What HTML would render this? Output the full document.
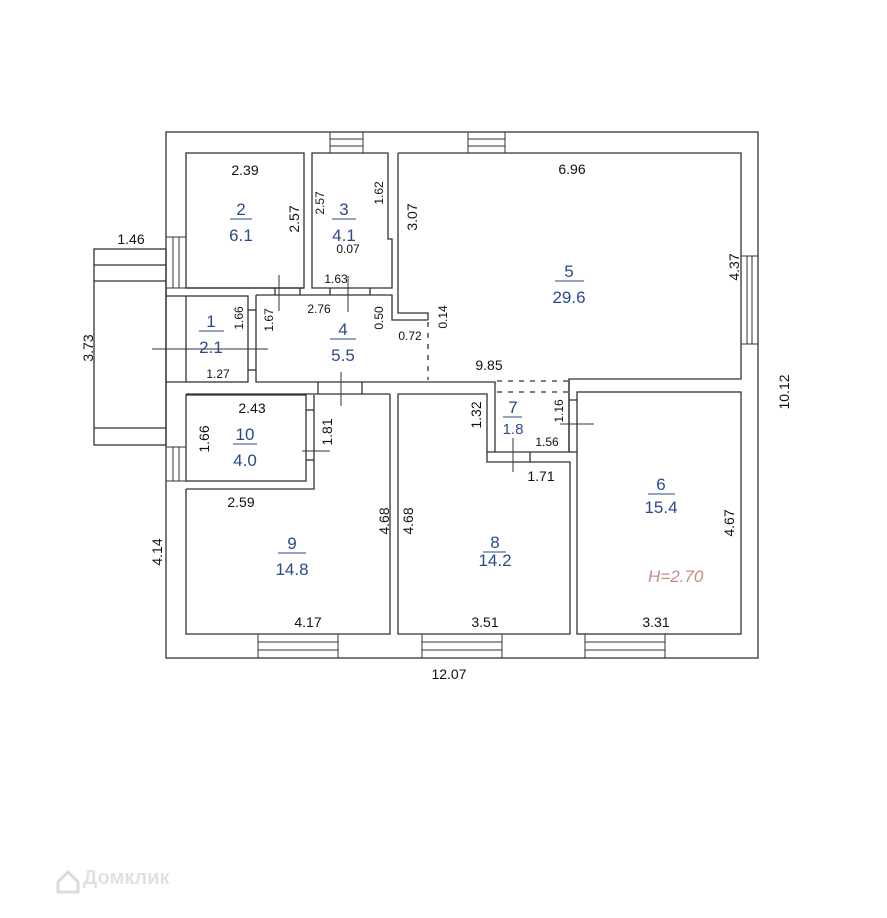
<!DOCTYPE html>
<html><head><meta charset="utf-8"><style>
html,body{margin:0;padding:0;background:#fff}
svg{display:block}
text{font-family:"Liberation Sans",sans-serif}
.d{font-size:14px;fill:#111}
.s{font-size:12px;fill:#111}
.b{font-size:17px;fill:#2b4a8c}
</style></head><body>
<svg width="887" height="918" viewBox="0 0 887 918" xmlns="http://www.w3.org/2000/svg">
<g fill="none" stroke="#333" stroke-width="1.3">
<!-- outer -->
<rect x="166" y="132" width="592" height="526"/>
<!-- porch -->
<rect x="94" y="249" width="72" height="196"/>
<line x1="94" y1="265" x2="166" y2="265"/><line x1="94" y1="281" x2="166" y2="281"/>
<line x1="94" y1="428" x2="166" y2="428"/>
<!-- room 2 -->
<rect x="186" y="153" width="118" height="135"/>
<!-- room 3 -->
<path d="M312,153 H388 V239 H392 V288 H312 Z"/>
<!-- room 5 -->
<path d="M398,153 H741 V379 H569 V452 M398,153 V313 H428 V320"/>
<path d="M569,379 V452 H495 V392"/>
<!-- room 4 -->
<path d="M256,295 H392 V320 H428 M256,295 V382 H495 V392 M428,320"/>
<!-- room 1 -->
<rect x="186" y="296" width="62" height="86"/>
<line x1="166" y1="296" x2="186" y2="296"/><line x1="166" y1="382" x2="186" y2="382"/>
<line x1="248" y1="310" x2="256" y2="310"/><line x1="248" y1="370" x2="256" y2="370"/>
<line x1="186" y1="288" x2="304" y2="288"/>
<line x1="275" y1="288" x2="275" y2="295"/><line x1="300" y1="288" x2="300" y2="295"/>
<line x1="330" y1="288" x2="330" y2="295"/><line x1="370" y1="288" x2="370" y2="295"/>
<!-- room 10 -->
<rect x="186" y="395" width="120" height="86"/>
<path d="M186,489 H314 V395"/>
<line x1="306" y1="410" x2="314" y2="410"/><line x1="306" y1="460" x2="314" y2="460"/>
<line x1="186" y1="394" x2="390" y2="394"/>
<line x1="318" y1="382" x2="318" y2="394"/><line x1="362" y1="382" x2="362" y2="394"/>
<!-- room 9 -->
<path d="M186,489 V634 H390 V394"/>
<!-- room 8 -->
<path d="M398,394 H487 V462 H570 V634 H398 Z"/>
<line x1="487" y1="452" x2="495" y2="452"/><line x1="530" y1="452" x2="530" y2="462"/>
<!-- room 6 -->
<rect x="577" y="392" width="164" height="242"/>
<line x1="569" y1="400" x2="577" y2="400"/><line x1="569" y1="452" x2="577" y2="452"/>
<!-- dashed -->
<path d="M428,322 V380 M497,381 H569 M497,392 H569" stroke-dasharray="5,6"/>
<!-- windows -->
<g stroke-width="1">
<rect x="330" y="132" width="33" height="21"/><line x1="330" y1="139" x2="363" y2="139"/><line x1="330" y1="146" x2="363" y2="146"/>
<rect x="468" y="132" width="37" height="21"/><line x1="468" y1="139" x2="505" y2="139"/><line x1="468" y1="146" x2="505" y2="146"/>
<rect x="166" y="237" width="20" height="51"/><line x1="173" y1="237" x2="173" y2="288"/><line x1="179" y1="237" x2="179" y2="288"/>
<rect x="166" y="447" width="20" height="34"/><line x1="173" y1="447" x2="173" y2="481"/><line x1="179" y1="447" x2="179" y2="481"/>
<rect x="741" y="256" width="17" height="88"/><line x1="747" y1="256" x2="747" y2="344"/><line x1="752" y1="256" x2="752" y2="344"/>
<rect x="258" y="634" width="80" height="24"/><line x1="258" y1="642" x2="338" y2="642"/><line x1="258" y1="650" x2="338" y2="650"/>
<rect x="422" y="634" width="80" height="24"/><line x1="422" y1="642" x2="502" y2="642"/><line x1="422" y1="650" x2="502" y2="650"/>
<rect x="585" y="634" width="80" height="24"/><line x1="585" y1="642" x2="665" y2="642"/><line x1="585" y1="650" x2="665" y2="650"/>
</g>
<!-- door ticks -->
<g stroke-width="1">
<line x1="152" y1="349" x2="268" y2="349"/>
<line x1="279" y1="275" x2="279" y2="311"/>
<line x1="348" y1="276" x2="348" y2="312"/>
<line x1="341" y1="372" x2="341" y2="406"/>
<line x1="302" y1="451" x2="330" y2="451"/>
<line x1="513" y1="438" x2="513" y2="472"/>
<line x1="560" y1="424" x2="594" y2="424"/>
</g>
<!-- fraction bars -->
<g stroke="#2b4a8c" stroke-width="1">
<line x1="230" y1="219" x2="252" y2="219"/><line x1="332" y1="219" x2="356" y2="219"/>
<line x1="199" y1="331" x2="224" y2="331"/><line x1="330" y1="339" x2="356" y2="339"/>
<line x1="555" y1="281" x2="584" y2="281"/><line x1="503" y1="417" x2="522" y2="417"/>
<line x1="233" y1="444" x2="257" y2="444"/><line x1="278" y1="553" x2="306" y2="553"/>
<line x1="483" y1="552" x2="506" y2="552"/><line x1="648" y1="494" x2="675" y2="494"/>
</g>
</g>
<!-- room labels -->
<g class="b" text-anchor="middle">
<text x="241" y="215">2</text><text x="241" y="241">6.1</text>
<text x="344" y="215">3</text><text x="344" y="241">4.1</text>
<text x="211" y="327">1</text><text x="211" y="353">2.1</text>
<text x="343" y="335">4</text><text x="343" y="361">5.5</text>
<text x="569" y="277">5</text><text x="569" y="303">29.6</text>
<text x="513" y="413">7</text><text x="513" y="434" style="font-size:15px">1.8</text>
<text x="245" y="440">10</text><text x="245" y="466">4.0</text>
<text x="292" y="549">9</text><text x="292" y="575">14.8</text>
<text x="495" y="548">8</text><text x="495" y="566">14.2</text>
<text x="661" y="490">6</text><text x="661" y="513">15.4</text>
</g>
<text x="648" y="582" style="font-size:17px;fill:#c88a86;font-style:italic">H=2.70</text>
<!-- dimensions -->
<g class="d" text-anchor="middle">
<text x="245" y="175">2.39</text>
<text x="572" y="174">6.96</text>
<text x="131" y="244">1.46</text>
<text x="308" y="627">4.17</text>
<text x="485" y="627">3.51</text>
<text x="656" y="627">3.31</text>
<text x="449" y="679">12.07</text>
<text x="489" y="370">9.85</text>
<text x="252" y="413">2.43</text>
<text x="241" y="507">2.59</text>
<text x="541" y="481">1.71</text>
</g>
<g class="s" text-anchor="middle">
<text x="336" y="283">1.63</text>
<text x="319" y="313">2.76</text>
<text x="348" y="253">0.07</text>
<text x="410" y="340">0.72</text>
<text x="218" y="378">1.27</text>
<text x="547" y="446">1.56</text>
</g>
<g class="d" text-anchor="middle">
<text transform="translate(299,219) rotate(-90)">2.57</text>
<text transform="translate(417,217) rotate(-90)">3.07</text>
<text transform="translate(739,267) rotate(-90)">4.37</text>
<text transform="translate(789,392) rotate(-90)">10.12</text>
<text transform="translate(93,348) rotate(-90)">3.73</text>
<text transform="translate(162,552) rotate(-90)">4.14</text>
<text transform="translate(209,439) rotate(-90)">1.66</text>
<text transform="translate(332,432) rotate(-90)">1.81</text>
<text transform="translate(389,521) rotate(-90)">4.68</text>
<text transform="translate(413,521) rotate(-90)">4.68</text>
<text transform="translate(481,415) rotate(-90)">1.32</text>
<text transform="translate(734,523) rotate(-90)">4.67</text>
</g>
<g class="s" text-anchor="middle">
<text transform="translate(324,203) rotate(-90)">2.57</text>
<text transform="translate(383,193) rotate(-90)">1.62</text>
<text transform="translate(243,318) rotate(-90)">1.66</text>
<text transform="translate(273,320) rotate(-90)">1.67</text>
<text transform="translate(383,318) rotate(-90)">0.50</text>
<text transform="translate(447,317) rotate(-90)">0.14</text>
<text transform="translate(563,411) rotate(-90)">1.16</text>
</g>
<!-- watermark -->
<g opacity="0.35">
<path d="M58,882 L68,872 L78,882 V892 H58 Z" fill="none" stroke="#999" stroke-width="3"/>
<text x="83" y="884" style="font-size:20px;fill:#aaa;font-weight:bold">Домклик</text>
</g>
</svg>
</body></html>
